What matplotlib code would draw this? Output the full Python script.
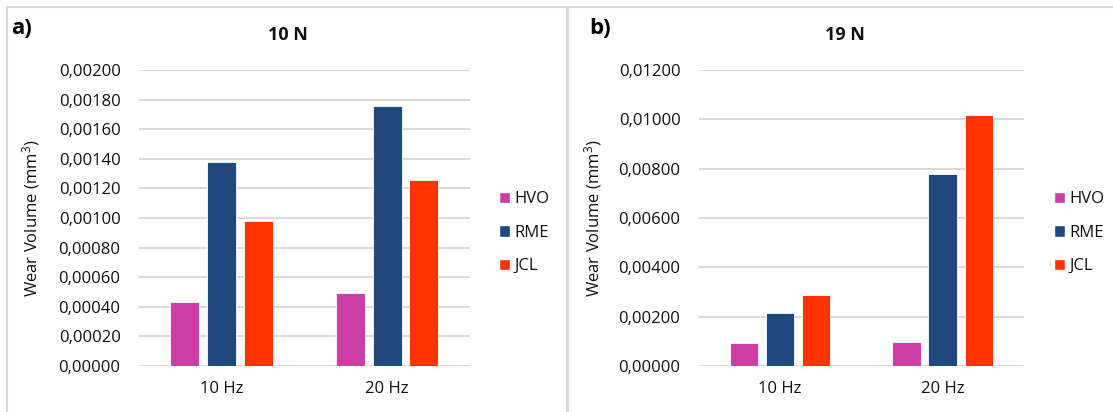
import matplotlib.pyplot as plt
from matplotlib.lines import Line2D
from matplotlib.patches import Patch
from matplotlib.ticker import FuncFormatter
import numpy as np

plt.rcParams['font.family'] = ['Open Sans', 'DejaVu Sans']
plt.rcParams['mathtext.fontset'] = 'custom'
plt.rcParams['mathtext.rm'] = 'Open Sans'
plt.rcParams['mathtext.default'] = 'rm'

categories = ['10 Hz', '20 Hz']
series = ['HVO', 'RME', 'JCL']
colors = ['#cc3fa7', '#1f497d', '#ff3300']

# panel a) 10 N
wear_10N = {
    'HVO': [0.00043, 0.00049],
    'RME': [0.00138, 0.00176],
    'JCL': [0.00098, 0.00126],
}
# panel b) 19 N
wear_19N = {
    'HVO': [0.00092, 0.00096],
    'RME': [0.00214, 0.00780],
    'JCL': [0.00288, 0.01018],
}

W, H = 1113, 412
fig = plt.figure(figsize=(W / 100, H / 100), dpi=100)
fig.patch.set_facecolor('white')

grid_col = '#d9d9d9'
txt_col = '#111111'


def comma_fmt(v, pos):
    return ('%.5f' % v).replace('.', ',')


def draw_panel(left_px, right_px, data, ymax, ystep, title, title_x, letter, letter_x, leg_x):
    ax = fig.add_axes([left_px / W, (H - 366) / H, (right_px - left_px) / W, 296 / H])
    x = np.arange(len(categories))
    width = 0.175
    offs = [-0.222, 0, 0.222]
    for s, c, o in zip(series, colors, offs):
        ax.bar(x + o, data[s], width, color=c, edgecolor='white', linewidth=0.6, label=s, zorder=3)
    ax.set_xlim(-0.5, 1.5)
    ax.set_ylim(0, ymax)
    ax.set_yticks(np.arange(0, ymax + ystep / 2, ystep))
    ax.yaxis.set_major_formatter(FuncFormatter(comma_fmt))
    ax.set_xticks(x)
    ax.set_xticklabels(categories)
    ax.grid(axis='y', color=grid_col, linewidth=1.4, zorder=0)
    ax.set_axisbelow(True)
    for sp in ax.spines.values():
        sp.set_visible(False)
    ax.tick_params(axis='both', length=0, labelsize=12, colors=txt_col)
    ax.tick_params(axis='y', pad=13)
    ax.tick_params(axis='x', pad=11)
    ax.set_facecolor('none')
    ax.set_ylabel('Wear Volume (mm$^{3}$)', fontsize=12, color=txt_col)
    ax.yaxis.set_label_coords(-0.29, 0.5)
    handles = [Patch(facecolor=c, edgecolor='white', label=s) for s, c in zip(series, colors)]
    ax.legend(handles=handles, loc='center left', bbox_to_anchor=(leg_x, 0.45),
              frameon=False, fontsize=12, handlelength=0.65, handleheight=0.65,
              handletextpad=0.3, labelspacing=1.05, borderpad=0, borderaxespad=0,
              labelcolor=txt_col)
    fig.text(title_x / W, (H - 35) / H, title, ha='center', va='center',
             fontsize=13, fontweight='bold', color=txt_col)
    fig.text(letter_x / W, (H - 28) / H, letter, ha='left', va='center',
             fontsize=16, fontweight='bold', color='black')
    return ax


draw_panel(138.6, 470, wear_10N, 0.002, 0.0002, '10 N', 287.5, 'a)', 11, 1.0875)
draw_panel(698.5, 1024, wear_19N, 0.012, 0.002, '19 N', 845, 'b)', 589, 1.092)

# panel frames
fig.add_artist(Line2D([7 / W, 1], [(H - 6.5) / H] * 2, transform=fig.transFigure, color=grid_col, lw=1.5))
fig.add_artist(Line2D([7.3 / W] * 2, [0, (H - 6.5) / H], transform=fig.transFigure, color=grid_col, lw=1.5))
fig.add_artist(Line2D([567 / W] * 2, [0, (H - 6.5) / H], transform=fig.transFigure, color=grid_col, lw=2.2))

plt.savefig('out.png', dpi=100)
